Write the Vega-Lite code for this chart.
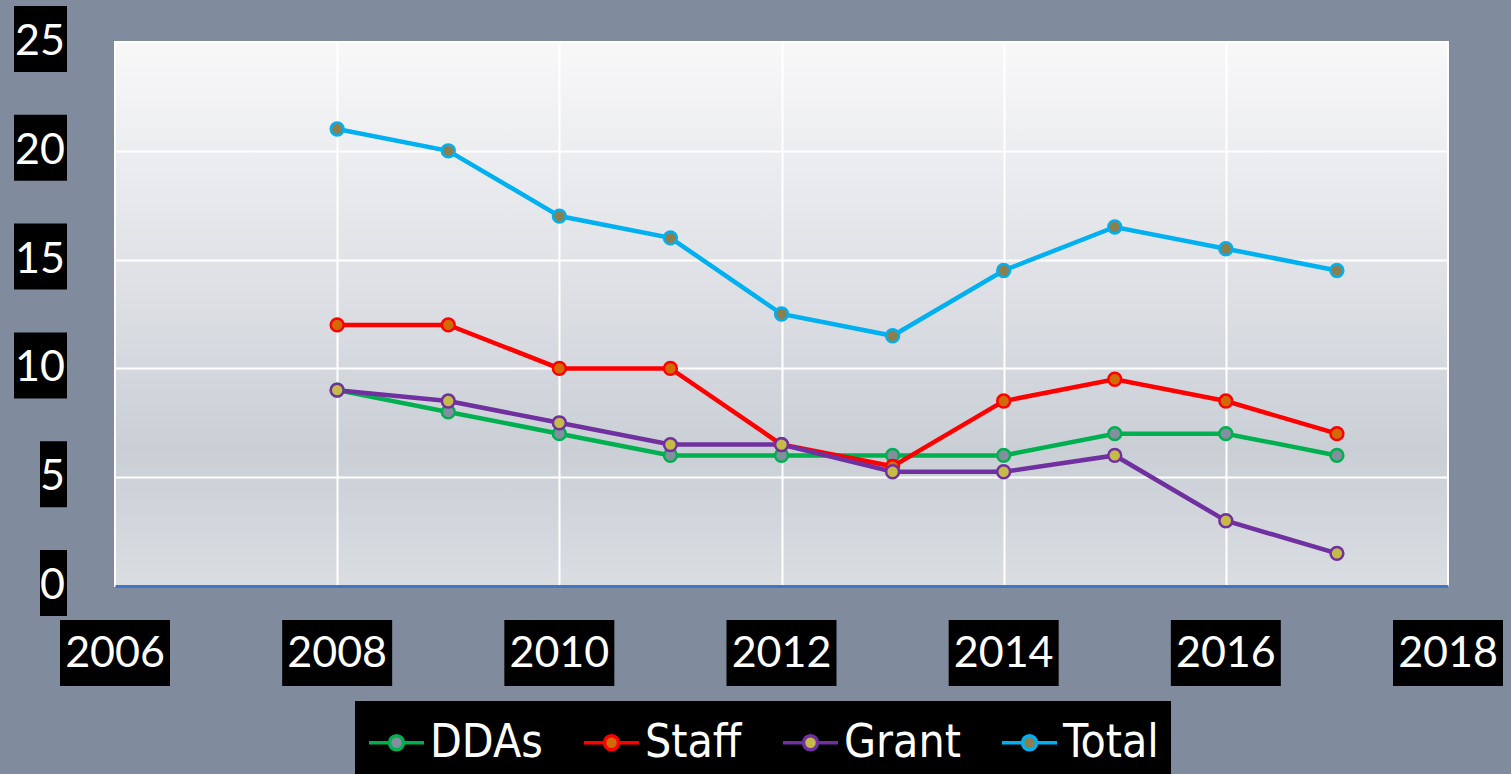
{
  "$schema": "https://vega.github.io/schema/vega-lite/v6.json",
  "width": 1333,
  "height": 544,
  "autosize": {"type": "none"},
  "padding": {"left": 115, "top": 42, "right": 63, "bottom": 188},
  "background": "#808C9E",
  "config": {
    "view": {
      "fill": {"gradient": "linear", "x1": 0, "y1": 0, "x2": 0, "y2": 1,
        "stops": [
          {"offset": 0, "color": "#F8F8F9"},
          {"offset": 0.45, "color": "#DEE0E5"},
          {"offset": 0.75, "color": "#CACFD6"},
          {"offset": 1, "color": "#DADDE2"}
        ]},
      "stroke": "#FFFFFF",
      "strokeWidth": 2
    }
  },
  "datasets": {
    "series": [
      {"year": 2008, "series": "DDAs", "value": 9},
      {"year": 2009, "series": "DDAs", "value": 8},
      {"year": 2010, "series": "DDAs", "value": 7},
      {"year": 2011, "series": "DDAs", "value": 6},
      {"year": 2012, "series": "DDAs", "value": 6},
      {"year": 2013, "series": "DDAs", "value": 6},
      {"year": 2014, "series": "DDAs", "value": 6},
      {"year": 2015, "series": "DDAs", "value": 7},
      {"year": 2016, "series": "DDAs", "value": 7},
      {"year": 2017, "series": "DDAs", "value": 6},
      {"year": 2008, "series": "Staff", "value": 12},
      {"year": 2009, "series": "Staff", "value": 12},
      {"year": 2010, "series": "Staff", "value": 10},
      {"year": 2011, "series": "Staff", "value": 10},
      {"year": 2012, "series": "Staff", "value": 6.5},
      {"year": 2013, "series": "Staff", "value": 5.5},
      {"year": 2014, "series": "Staff", "value": 8.5},
      {"year": 2015, "series": "Staff", "value": 9.5},
      {"year": 2016, "series": "Staff", "value": 8.5},
      {"year": 2017, "series": "Staff", "value": 7},
      {"year": 2008, "series": "Grant", "value": 9},
      {"year": 2009, "series": "Grant", "value": 8.5},
      {"year": 2010, "series": "Grant", "value": 7.5},
      {"year": 2011, "series": "Grant", "value": 6.5},
      {"year": 2012, "series": "Grant", "value": 6.5},
      {"year": 2013, "series": "Grant", "value": 5.25},
      {"year": 2014, "series": "Grant", "value": 5.25},
      {"year": 2015, "series": "Grant", "value": 6},
      {"year": 2016, "series": "Grant", "value": 3},
      {"year": 2017, "series": "Grant", "value": 1.5},
      {"year": 2008, "series": "Total", "value": 21},
      {"year": 2009, "series": "Total", "value": 20},
      {"year": 2010, "series": "Total", "value": 17},
      {"year": 2011, "series": "Total", "value": 16},
      {"year": 2012, "series": "Total", "value": 12.5},
      {"year": 2013, "series": "Total", "value": 11.5},
      {"year": 2014, "series": "Total", "value": 14.5},
      {"year": 2015, "series": "Total", "value": 16.5},
      {"year": 2016, "series": "Total", "value": 15.5},
      {"year": 2017, "series": "Total", "value": 14.5}
    ],
    "xticks": [
      {"year": 2006}, {"year": 2008}, {"year": 2010}, {"year": 2012},
      {"year": 2014}, {"year": 2016}, {"year": 2018}
    ],
    "yticks": [
      {"v": 0}, {"v": 5}, {"v": 10}, {"v": 15}, {"v": 20}, {"v": 25}
    ]
  },
  "layer": [
    {
      "data": {"name": "series"},
      "mark": {"type": "line", "strokeWidth": 4.5},
      "encoding": {
        "x": {
          "field": "year", "type": "quantitative",
          "scale": {"domain": [2006, 2018], "nice": false, "zero": false},
          "axis": {
            "values": [2008, 2010, 2012, 2014, 2016],
            "grid": true, "gridColor": "#FFFFFF", "gridWidth": 2, "gridOpacity": 1,
            "labels": false, "ticks": false, "title": null,
            "domain": true, "domainColor": "#3F76C8", "domainWidth": 3
          }
        },
        "y": {
          "field": "value", "type": "quantitative",
          "scale": {"domain": [0, 25], "nice": false},
          "axis": {
            "values": [5, 10, 15, 20],
            "grid": true, "gridColor": "#FFFFFF", "gridWidth": 2, "gridOpacity": 1,
            "labels": false, "ticks": false, "title": null, "domain": false
          }
        },
        "stroke": {
          "field": "series", "type": "nominal",
          "scale": {
            "domain": ["DDAs", "Staff", "Grant", "Total"],
            "range": ["#00B050", "#FF0000", "#7030A0", "#00B0F0"]
          },
          "legend": {
            "title": null,
            "orient": "none",
            "legendX": 240,
            "legendY": 659,
            "direction": "horizontal",
            "fillColor": "#000000",
            "padding": 12,
            "columnPadding": 34,
            "labelOffset": 4,
            "labelColor": "#FFFFFF",
            "labelFont": "Liberation Sans Narrow, DejaVu Sans Condensed, sans-serif",
            "labelFontSize": 46,
            "labelLimit": 300,
            "symbolType": "M-1,0L-0.2545,0M0.2545,0L1,0M-0.2545,0A0.2545,0.2545,0,1,1,0.2545,0A0.2545,0.2545,0,1,1,-0.2545,0Z",
            "symbolSize": 3025,
            "symbolStrokeWidth": 3.5,
            "encode": {
              "symbols": {
                "update": {
                  "fill": {"signal": "scale('fill', datum.value)"},
                  "stroke": {"signal": "scale('stroke', datum.value)"},
                  "fillOpacity": {"value": 1},
                  "opacity": {"value": 1}
                }
              }
            }
          }
        }
      }
    },
    {
      "data": {"name": "series"},
      "mark": {"type": "point", "filled": false, "size": 165, "strokeWidth": 2.5, "opacity": 1, "fillOpacity": 1, "shape": "circle"},
      "encoding": {
        "x": {"field": "year", "type": "quantitative"},
        "y": {"field": "value", "type": "quantitative"},
        "stroke": {"field": "series", "type": "nominal"},
        "fill": {
          "field": "series", "type": "nominal",
          "scale": {
            "domain": ["DDAs", "Staff", "Grant", "Total"],
            "range": ["#838E9E", "#D26A08", "#C6BB48", "#8A7F4F"]
          },
          "legend": null
        }
      }
    },
    {
      "data": {"name": "xticks"},
      "mark": {"type": "rect", "color": "#000000", "xOffset": -55, "x2Offset": 55, "yOffset": 34, "y2Offset": 100},
      "encoding": {
        "x": {"field": "year", "type": "quantitative"},
        "x2": {"field": "year"},
        "y": {"datum": 0, "type": "quantitative"},
        "y2": {"datum": 0}
      }
    },
    {
      "data": {"name": "xticks"},
      "mark": {"type": "text", "color": "#FFFFFF", "font": "Lato", "fontSize": 43, "align": "center", "baseline": "middle", "yOffset": 68},
      "encoding": {
        "x": {"field": "year", "type": "quantitative"},
        "y": {"datum": 0, "type": "quantitative"},
        "text": {"field": "year", "type": "quantitative", "format": "d"}
      }
    },
    {
      "data": {"name": "yticks"},
      "transform": [{"filter": "datum.v >= 10"}],
      "mark": {"type": "rect", "color": "#000000", "xOffset": -101, "x2Offset": -48, "yOffset": 30, "y2Offset": -36},
      "encoding": {
        "x": {"datum": 2006, "type": "quantitative"},
        "x2": {"datum": 2006},
        "y": {"field": "v", "type": "quantitative"},
        "y2": {"field": "v"}
      }
    },
    {
      "data": {"name": "yticks"},
      "transform": [{"filter": "datum.v < 10"}],
      "mark": {"type": "rect", "color": "#000000", "xOffset": -75, "x2Offset": -48, "yOffset": 30, "y2Offset": -36},
      "encoding": {
        "x": {"datum": 2006, "type": "quantitative"},
        "x2": {"datum": 2006},
        "y": {"field": "v", "type": "quantitative"},
        "y2": {"field": "v"}
      }
    },
    {
      "data": {"name": "yticks"},
      "mark": {"type": "text", "color": "#FFFFFF", "font": "Lato", "fontSize": 43, "align": "right", "baseline": "middle", "xOffset": -50, "yOffset": 0},
      "encoding": {
        "x": {"datum": 2006, "type": "quantitative"},
        "y": {"field": "v", "type": "quantitative"},
        "text": {"field": "v", "type": "quantitative", "format": "d"}
      }
    }
  ]
}
